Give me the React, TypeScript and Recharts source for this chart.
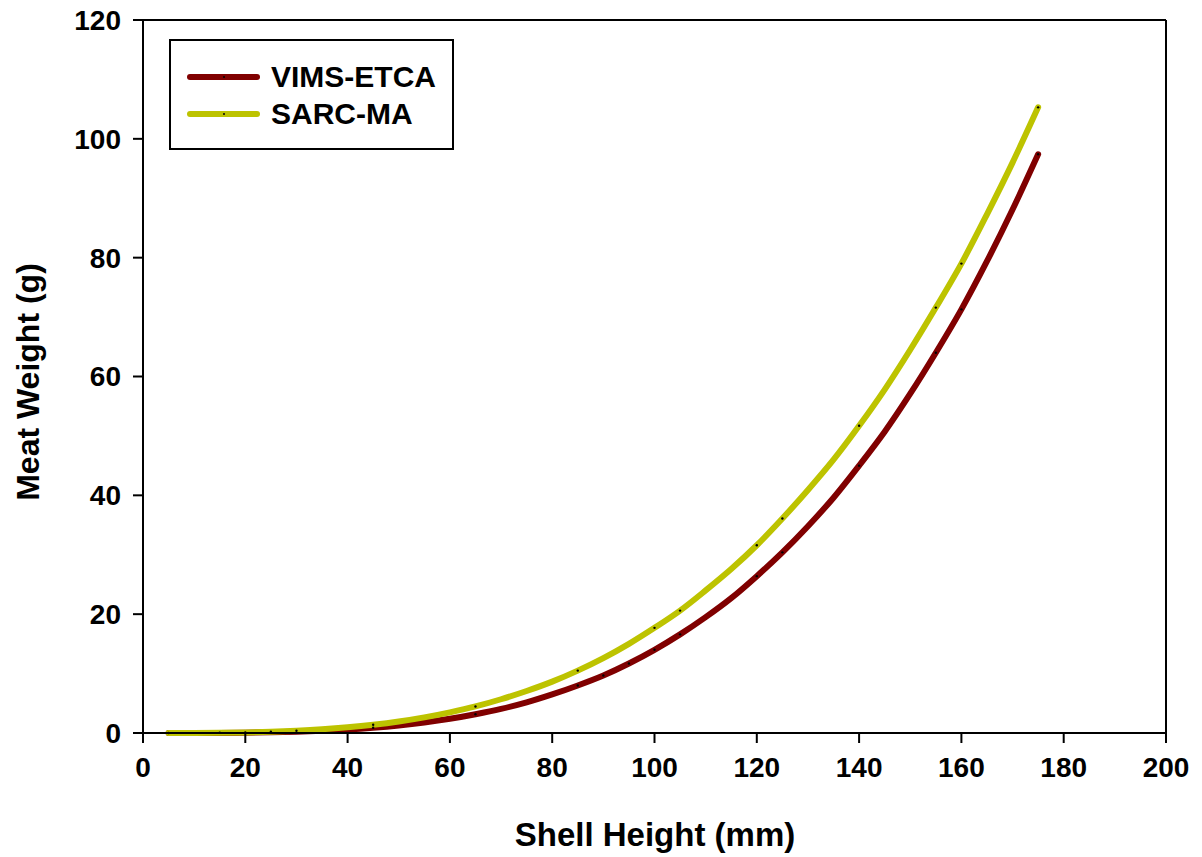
import { LineChart, Line, XAxis, YAxis, ReferenceLine } from "recharts";

// shell height (mm)
const heights = [
  5, 10, 15, 20, 25, 30, 35, 40, 45, 50, 55, 60, 65, 70, 75, 80, 85, 90, 95,
  100, 105, 110, 115, 120, 125, 130, 135, 140, 145, 150, 155, 160, 165, 170, 175,
];

// meat weight (g)
const vimsEtca = [
  0.0, 0.01, 0.02, 0.05, 0.11, 0.21, 0.37, 0.58, 0.88, 1.27, 1.77, 2.39, 3.16,
  4.06, 5.16, 6.49, 8.0, 9.68, 11.7, 14.0, 16.6, 19.5, 22.7, 26.4, 30.4, 34.8,
  39.6, 45.0, 50.7, 57.1, 64.0, 71.3, 79.4, 88.1, 97.4,
];
const sarcMa = [
  0.0, 0.01, 0.04, 0.1, 0.21, 0.38, 0.62, 0.95, 1.38, 1.93, 2.63, 3.48, 4.47,
  5.68, 7.07, 8.65, 10.5, 12.6, 15.0, 17.7, 20.6, 24.0, 27.6, 31.6, 36.1, 40.9,
  46.0, 51.7, 57.8, 64.5, 71.6, 79.0, 87.3, 96.0, 105.3,
];

// x positions where the original shows small marker dots
const vimsMarks = [45, 65, 85, 90, 95, 100, 105, 120, 125, 140, 155, 160, 175];
const sarcMarks = [5, 15, 20, 25, 30, 45, 65, 85, 100, 105, 120, 125, 140, 155, 160, 175];

const xTicks = [0, 20, 40, 60, 80, 100, 120, 140, 160, 180, 200];
const yTicks = [0, 20, 40, 60, 80, 100, 120];

const data = heights.map((h, i) => ({ h, vims: vimsEtca[i], sarc: sarcMa[i] }));

const RED = "#800000";
const YELLOW = "#bdc300";
const FONT = "'Liberation Sans', Arial, sans-serif";

const markDot = (marks: number[]) => (props: any) => {
  const { cx, cy, payload, index } = props;
  if (!marks.includes(payload.h)) return <g key={index} />;
  return <circle key={index} cx={cx} cy={cy} r={1.2} fill="#000" />;
};

const LegendBox = () => (
  <div
    style={{
      position: "absolute",
      left: 169,
      top: 39,
      width: 285,
      height: 111,
      border: "2px solid #000",
      boxSizing: "border-box",
      background: "#fff",
      fontFamily: FONT,
      fontWeight: "bold",
      fontSize: 30,
      paddingTop: 17,
    }}
  >
    {[
      { name: "VIMS-ETCA", color: RED },
      { name: "SARC-MA", color: YELLOW },
    ].map((it) => (
      <div key={it.name} style={{ display: "flex", alignItems: "center", height: 37 }}>
        <svg width={100} height={12}>
          <line x1={19} y1={6} x2={86} y2={6} stroke={it.color} strokeWidth={6} strokeLinecap="round" />
          <circle cx={53} cy={6} r={1} fill="#000" />
        </svg>
        <span>{it.name}</span>
      </div>
    ))}
  </div>
);

export default function App() {
  const tickStyle = { fontSize: 28, fontWeight: "bold", fill: "#000", fontFamily: FONT };
  return (
    <div style={{ position: "absolute", left: 0, top: 0, width: 1202, height: 857, background: "#fff" }}>
      <LineChart width={1202} height={857} data={data} margin={{ top: 20, right: 36, left: 0, bottom: 84 }}>
        <XAxis
          dataKey="h"
          type="number"
          domain={[0, 200]}
          ticks={xTicks}
          tick={tickStyle}
          tickSize={10}
          tickMargin={14}
          height={40}
          axisLine={{ stroke: "#000", strokeWidth: 2 }}
          tickLine={{ stroke: "#000", strokeWidth: 2 }}
          label={{
            content: () => (
              <text x={655} y={846} textAnchor="middle" fontSize={33} fontWeight="bold" fontFamily={FONT} fill="#000">
                Shell Height (mm)
              </text>
            ),
          }}
        />
        <YAxis
          type="number"
          domain={[0, 120]}
          ticks={yTicks}
          tick={tickStyle}
          tickSize={10}
          tickMargin={12}
          width={143}
          axisLine={{ stroke: "#000", strokeWidth: 2 }}
          tickLine={{ stroke: "#000", strokeWidth: 2 }}
          label={{
            content: () => (
              <text
                x={28}
                y={382}
                transform="rotate(-90, 28, 382)"
                textAnchor="middle"
                dominantBaseline="central"
                fontSize={32}
                fontWeight="bold"
                fontFamily={FONT}
                fill="#000"
              >
                Meat Weight (g)
              </text>
            ),
          }}
        />
        <ReferenceLine y={120} stroke="#000" strokeWidth={2} />
        <ReferenceLine x={200} stroke="#000" strokeWidth={2} />
        <Line
          dataKey="vims"
          name="VIMS-ETCA"
          type="monotone"
          stroke={RED}
          strokeWidth={6}
          strokeLinecap="round"
          dot={markDot(vimsMarks)}
          activeDot={false}
          isAnimationActive={false}
        />
        <Line
          dataKey="sarc"
          name="SARC-MA"
          type="monotone"
          stroke={YELLOW}
          strokeWidth={6}
          strokeLinecap="round"
          dot={markDot(sarcMarks)}
          activeDot={false}
          isAnimationActive={false}
        />
      </LineChart>
      <LegendBox />
    </div>
  );
}
